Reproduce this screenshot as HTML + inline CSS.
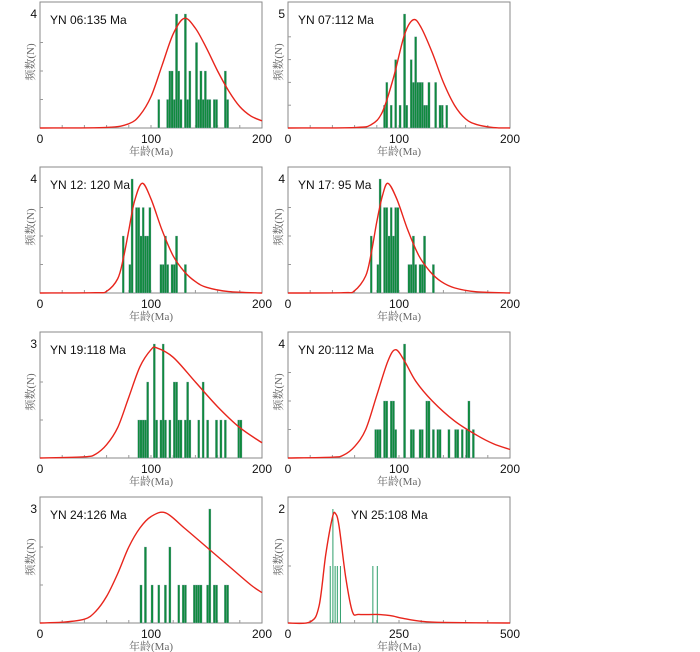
<!DOCTYPE html>
<html><head><meta charset="utf-8"><style>
body{margin:0;background:#fff;}
svg{display:block;}
text{font-family:"Liberation Sans","Noto Sans CJK SC",sans-serif;}
.cn{font-family:"Liberation Serif","Noto Serif CJK SC",serif;fill:#666;font-size:11px;}
</style></head><body>
<svg id="chart" width="700" height="652" viewBox="0 0 700 652" xmlns="http://www.w3.org/2000/svg"></svg>
<script>
// ---- data ----
const panelTitles = ["YN 06:135 Ma","YN 07:112 Ma","YN 12: 120 Ma","YN 17: 95 Ma","YN 19:118 Ma","YN 20:112 Ma","YN 24:126 Ma","YN 25:108 Ma"];
const panelYMax = [4,5,4,4,3,4,3,2];
const panelXMax = [200,200,200,200,200,200,200,500];
const xTickLabels200 = ["0","100","200"];
const xTickLabels500 = ["0","250","500"];
// histogram bins: ages (Ma, bin start) and counts
const binAges1 = [106,114,116,118,120,122,124,126,130,132,134,140,142,144,146,148,150,152,156,158,166,168];
const binCounts1 = [1,1,2,2,1,4,2,1,4,1,2,3,1,2,1,2,1,1,1,1,2,1];
const binAges2 = [86,88,92,96,100,104,106,110,112,114,116,118,120,122,124,126,132,136,138,142];
const binCounts2 = [1,2,1,3,1,5,1,3,2,4,2,2,2,1,1,2,2,1,1,1];
const binAges3 = [74,80,82,86,88,90,92,94,96,98,108,110,112,114,118,120,122,130];
const binCounts3 = [2,1,4,3,3,2,3,2,2,3,1,1,2,1,1,1,2,1];
const binAges4 = [74,80,82,86,88,90,92,94,96,98,108,110,112,114,118,120,122,130];
const binCounts4 = [2,1,4,3,3,2,3,2,3,3,1,1,2,1,1,1,2,1];
const binAges5 = [88,90,92,94,96,102,104,108,110,112,116,120,122,124,126,130,132,134,142,146,150,158,162,166,178,180];
const binCounts5 = [1,1,1,1,2,3,1,1,3,1,1,2,2,1,1,1,2,1,1,2,1,1,1,1,1,1];
const binAges6 = [78,80,82,86,88,92,94,96,104,110,112,118,120,124,126,130,134,136,144,150,152,156,160,162,166];
const binCounts6 = [1,1,1,2,2,2,2,1,4,1,1,1,1,2,2,1,1,1,1,1,1,1,1,2,1];
const binAges7 = [90,94,100,106,112,116,124,128,130,138,140,142,144,150,152,156,158,166,168];
const binCounts7 = [1,2,1,1,1,2,1,1,1,1,1,1,1,1,3,1,1,1,1];
const binAges8 = [94,100,105,110,117,190,200];
const binCounts8 = [1,2,1,1,1,1,1];
// probability density curves (age, height in count units)
const curveAges1 = [0,60,80,90,100,110,120,130,140,150,160,170,180,190,200];
const curveVals1 = [0,0.02,0.15,0.45,1.1,2.2,3.3,3.85,3.5,2.8,2.0,1.3,0.75,0.42,0.25];
const curveAges2 = [0,60,75,85,95,105,113,120,130,140,150,160,170,185,200];
const curveVals2 = [0,0.02,0.15,0.7,2.2,4.1,4.75,4.4,3.3,2.0,1.0,0.4,0.15,0.02,0];
const curveAges3 = [0,50,60,70,75,80,85,92,100,110,120,130,140,150,170,200];
const curveVals3 = [0,0.01,0.06,0.5,1.2,2.2,3.2,3.85,3.3,2.2,1.3,0.75,0.4,0.2,0.05,0];
const curveAges4 = [0,50,60,70,75,80,85,90,98,108,118,128,138,150,170,200];
const curveVals4 = [0,0.01,0.08,0.6,1.4,2.5,3.4,3.85,3.3,2.2,1.3,0.75,0.4,0.18,0.04,0];
const curveAges5 = [0,40,50,60,70,80,90,100,105,120,140,160,180,200];
const curveVals5 = [0,0.03,0.1,0.35,0.8,1.6,2.4,2.85,2.9,2.65,2.0,1.35,0.8,0.4];
const curveAges6 = [0,40,50,60,70,80,90,97,105,115,130,150,170,185,200];
const curveVals6 = [0,0.03,0.1,0.4,1.0,2.2,3.4,3.8,3.4,2.7,2.0,1.3,0.8,0.5,0.3];
const curveAges7 = [0,20,40,50,60,70,80,90,100,113,130,150,170,190,200];
const curveVals7 = [0,0.02,0.1,0.3,0.7,1.3,2.0,2.5,2.8,2.9,2.5,2.0,1.5,1.0,0.8];
const curveAges8 = [0,50,70,85,100,107,115,130,145,160,200,230,260,300,350,500];
const curveVals8 = [0,0.02,0.3,1.2,1.85,1.92,1.7,0.8,0.2,0.15,0.15,0.13,0.08,0.03,0.01,0];

const binAges=[binAges1,binAges2,binAges3,binAges4,binAges5,binAges6,binAges7,binAges8];
const binCounts=[binCounts1,binCounts2,binCounts3,binCounts4,binCounts5,binCounts6,binCounts7,binCounts8];
const curveAges=[curveAges1,curveAges2,curveAges3,curveAges4,curveAges5,curveAges6,curveAges7,curveAges8];
const curveVals=[curveVals1,curveVals2,curveVals3,curveVals4,curveVals5,curveVals6,curveVals7,curveVals8];

// ---- drawing ----
const NS="http://www.w3.org/2000/svg";
const svg=document.getElementById('chart');
function mk(tag,attrs,parent){const e=document.createElementNS(NS,tag);for(const k in attrs)e.setAttribute(k,attrs[k]);(parent||svg).appendChild(e);return e;}
const colX=[40,288], rowTop=[2,167,332,497], W=222, H=126;
for(let p=0;p<8;p++){
  const x0=colX[p%2], y0=rowTop[Math.floor(p/2)], base=y0+H;
  const xmax=panelXMax[p], ymax=panelYMax[p];
  const sx=v=>x0+v/xmax*W;
  const sy=v=>base-v*((H-12)/ymax);
  const g=mk('g',{});
  
  
  const fr=mk('rect',{x:x0,y:y0,width:W,height:H,fill:'#fff',stroke:'#8a8a8a','stroke-width':1},g);
  
  
  // x ticks
  const step=xmax===500?50:20;
  for(let v=step;v<xmax;v+=step){mk('line',{x1:sx(v),x2:sx(v),y1:base,y2:base-3,stroke:'#999','stroke-width':1},g);}
  for(let v=1;v<ymax;v++){mk('line',{x1:x0,x2:x0+3,y1:sy(v),y2:sy(v),stroke:'#999','stroke-width':1},g);}
  // bars
  const bw=2;
  for(let i=0;i<binAges[p].length;i++){
    const a=binAges[p][i],c=binCounts[p][i];
    const r=mk('rect',{x:sx(a),y:sy(c),width:Math.max(1,sx(a+bw)-sx(a)),height:base-sy(c),fill:xmax===500?'#2e9e6a':'#0f8a3e',stroke:xmax===500?'none':'#9ab','stroke-width':0.3},g);
    
    
  }
  // curve (Catmull-Rom)
  const pts=curveAges[p].map((a,i)=>[sx(a),sy(curveVals[p][i])]);
  let d='M'+pts[0][0]+','+pts[0][1];
  for(let i=0;i<pts.length-1;i++){
    const p0=pts[Math.max(0,i-1)],p1=pts[i],p2=pts[i+1],p3=pts[Math.min(pts.length-1,i+2)];
    const c1=[p1[0]+(p2[0]-p0[0])/6,p1[1]+(p2[1]-p0[1])/6];
    const c2=[p2[0]-(p3[0]-p1[0])/6,p2[1]-(p3[1]-p1[1])/6];
    d+=` C${c1[0]},${c1[1]} ${c2[0]},${c2[1]} ${p2[0]},${p2[1]}`;
  }
  const cv=mk('path',{d:d,fill:'none',stroke:'#e8251c','stroke-width':1.4},g);
  
  
  // labels
  const t=mk('text',{x:p===7?x0+63:x0+10,y:y0+22,'font-size':12,fill:'#111'},g);t.textContent=panelTitles[p];
  
  
  const ym=mk('text',{x:x0-3,y:sy(ymax)+4,'font-size':12,'text-anchor':'end',fill:'#111'},g);ym.textContent=String(ymax);
  
  
  const labs=xmax===500?xTickLabels500:xTickLabels200;
  labs.forEach((l,i)=>{const tx=mk('text',{x:sx(xmax*i/2),y:base+15,'font-size':12,'text-anchor':'middle',fill:'#111'},g);tx.textContent=l;
    
    });
  const xt=mk('text',{x:x0+W/2,y:base+27,'text-anchor':'middle','class':'cn'},g);xt.textContent='年龄(Ma)';
  
  
  const yt=mk('text',{x:0,y:0,'text-anchor':'middle','class':'cn',transform:`translate(${x0-6},${y0+H/2-3}) rotate(-90)`},g);yt.textContent='频数(N)';
  
  
}
</script>
</body></html>
